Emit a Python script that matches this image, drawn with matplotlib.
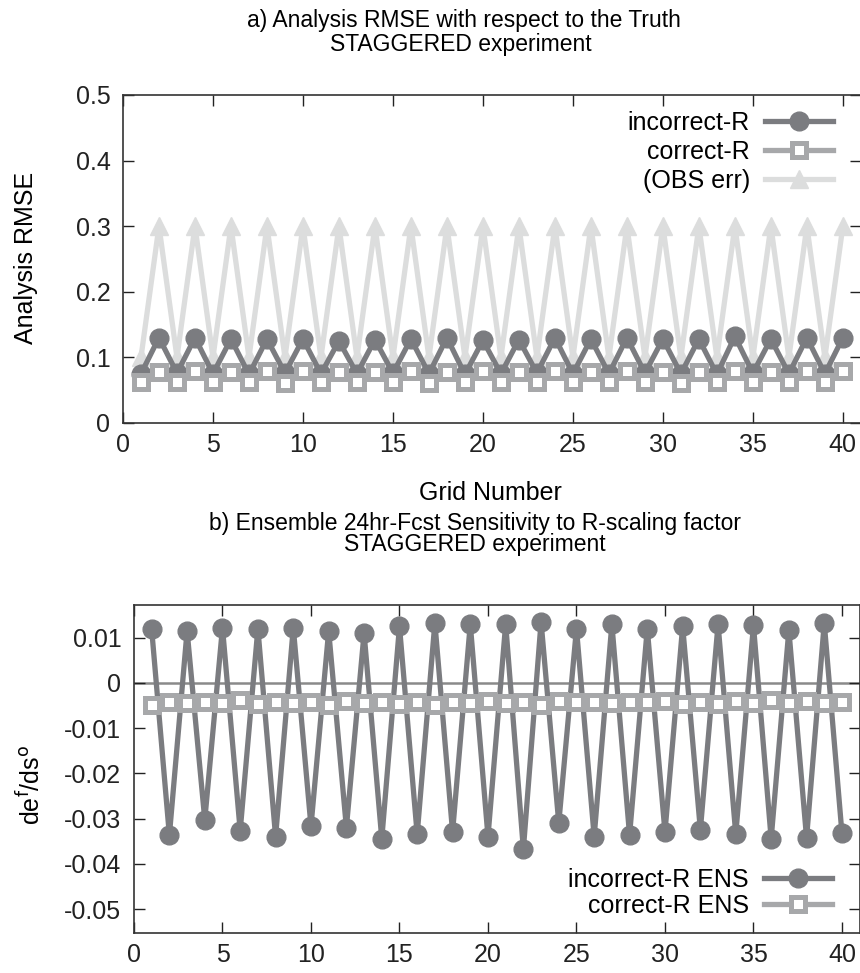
import matplotlib
matplotlib.use("Agg")
import matplotlib.pyplot as plt
import numpy as np

plt.rcParams['font.family'] = ['Liberation Sans', 'DejaVu Sans']

grid = np.arange(1, 41)

# panel a) analysis RMSE
rmse_incorrect_odd = [0.075, 0.076, 0.075, 0.074, 0.076, 0.075, 0.075, 0.076, 0.075, 0.074,
                      0.075, 0.076, 0.075, 0.075, 0.076, 0.075, 0.074, 0.076, 0.075, 0.075]
rmse_incorrect_even = [0.130, 0.130, 0.128, 0.128, 0.128, 0.125, 0.127, 0.128, 0.130, 0.126,
                       0.127, 0.130, 0.128, 0.130, 0.128, 0.128, 0.132, 0.128, 0.130, 0.130]
rmse_correct_odd = [0.062, 0.062, 0.062, 0.062, 0.061, 0.062, 0.062, 0.062, 0.061, 0.062,
                    0.062, 0.063, 0.062, 0.062, 0.062, 0.061, 0.062, 0.062, 0.062, 0.062]
rmse_correct_even = [0.078, 0.079, 0.078, 0.079, 0.079, 0.078, 0.078, 0.079, 0.078, 0.079,
                     0.078, 0.079, 0.078, 0.079, 0.078, 0.078, 0.079, 0.078, 0.079, 0.079]
obs_err_odd = [0.1] * 20
obs_err_even = [0.3] * 20

# panel b) sensitivity
sens_incorrect_odd = [0.0118, 0.0115, 0.0122, 0.0120, 0.0122, 0.0115, 0.0110, 0.0125, 0.0133, 0.0130,
                      0.0130, 0.0135, 0.0120, 0.0130, 0.0120, 0.0125, 0.0130, 0.0127, 0.0117, 0.0132]
sens_incorrect_even = [-0.0337, -0.0303, -0.0327, -0.0340, -0.0317, -0.0320, -0.0345, -0.0335, -0.0330, -0.0340,
                       -0.0368, -0.0310, -0.0340, -0.0337, -0.0330, -0.0325, -0.0335, -0.0345, -0.0343, -0.0333]
sens_correct_odd = [-0.0050, -0.0045, -0.0045, -0.0047, -0.0045, -0.0048, -0.0045, -0.0046, -0.0048, -0.0044,
                    -0.0045, -0.0048, -0.0043, -0.0045, -0.0042, -0.0046, -0.0046, -0.0045, -0.0044, -0.0045]
sens_correct_even = [-0.0043, -0.0043, -0.0038, -0.0043, -0.0043, -0.0040, -0.0042, -0.0043, -0.0042, -0.0040,
                     -0.0043, -0.0040, -0.0042, -0.0043, -0.0040, -0.0042, -0.0040, -0.0038, -0.0040, -0.0043]


def interleave(odd, even):
    out = np.empty(40)
    out[0::2] = odd
    out[1::2] = even
    return out


dark = '#7b7c80'
mid = '#a7a8aa'
light = '#dcdddd'
fs = 18
tfs = 16.5
lw = 3.8

fig = plt.figure(figsize=(8.6, 9.73), dpi=100)

ax1 = fig.add_axes([0.143, 0.5653, 0.858, 0.3371])
ax1.plot(grid, interleave(obs_err_odd, obs_err_even), color=light, lw=lw,
         marker='^', ms=13, label='(OBS err)', zorder=2)
ax1.plot(grid, interleave(rmse_incorrect_odd, rmse_incorrect_even), color=dark, lw=lw,
         marker='o', ms=13.5, label='incorrect-R', zorder=3)
ax1.plot(grid, interleave(rmse_correct_odd, rmse_correct_even), color=mid, lw=lw,
         marker='s', ms=10.5, mfc='white', mew=3.6, label='correct-R', zorder=4)
ax1.set_xlim(0, 41)
ax1.set_ylim(0, 0.5)
ax1.set_xticks(range(0, 41, 5))
ax1.set_yticks([0, 0.1, 0.2, 0.3, 0.4, 0.5])
ax1.set_yticklabels(['0', '0.1', '0.2', '0.3', '0.4', '0.5'])
h, l = ax1.get_legend_handles_labels()
order = [1, 2, 0]
ax1.legend([h[i] for i in order], [l[i] for i in order], loc='upper right',
           bbox_to_anchor=(0.982, 0.997), frameon=False, markerfirst=False,
           fontsize=fs, handlelength=2.7, labelspacing=0.2, handletextpad=0.6,
           borderaxespad=0.2)

ax2 = fig.add_axes([0.1558, 0.0411, 0.8438, 0.3371])
ax2.axhline(0, color='#8a8a8a', lw=1.8, zorder=1)
ax2.plot(grid, interleave(sens_incorrect_odd, sens_incorrect_even), color=dark, lw=lw,
         marker='o', ms=13.5, label='incorrect-R ENS', zorder=3)
ax2.plot(grid, interleave(sens_correct_odd, sens_correct_even), color=mid, lw=lw,
         marker='s', ms=10.5, mfc='white', mew=3.6, label='correct-R ENS', zorder=4)
ax2.set_xlim(0, 41)
ax2.set_ylim(-0.0553, 0.0172)
ax2.set_xticks(range(0, 41, 5))
ax2.set_yticks([0.01, 0, -0.01, -0.02, -0.03, -0.04, -0.05])
ax2.set_yticklabels(['0.01', '0', '-0.01', '-0.02', '-0.03', '-0.04', '-0.05'])
ax2.legend(loc='lower right', bbox_to_anchor=(0.982, 0.0), frameon=False, markerfirst=False,
           fontsize=fs, handlelength=2.7, labelspacing=0.1, handletextpad=0.6,
           borderaxespad=0.2)

for ax in (ax1, ax2):
    ax.tick_params(direction='in', length=8, width=1, top=True, right=True,
                   labelsize=fs, colors='#222222')
    ax.tick_params(axis='y', pad=9)
    ax.tick_params(axis='x', pad=7)
    for s in ax.spines.values():
        s.set_linewidth(1.2)
        s.set_color('#333333')

fig.text(0.540, 0.979, 'a) Analysis RMSE with respect to the Truth', ha='center', va='center', fontsize=tfs)
fig.text(0.536, 0.954, 'STAGGERED experiment', ha='center', va='center', fontsize=tfs)
fig.text(0.570, 0.493, 'Grid Number', ha='center', va='center', fontsize=fs)
fig.text(0.552, 0.462, 'b) Ensemble 24hr-Fcst Sensitivity to R-scaling factor', ha='center', va='center', fontsize=tfs)
fig.text(0.552, 0.440, 'STAGGERED experiment', ha='center', va='center', fontsize=tfs)
fig.text(0.030, 0.735, 'Analysis RMSE', rotation=90, ha='center', va='center', fontsize=fs)
fig.text(0.036, 0.193, r'de$^{\mathrm{f}}$/ds$^{\mathrm{o}}$', rotation=90, ha='center', va='center', fontsize=fs)

fig.savefig('out.png', dpi=100)
